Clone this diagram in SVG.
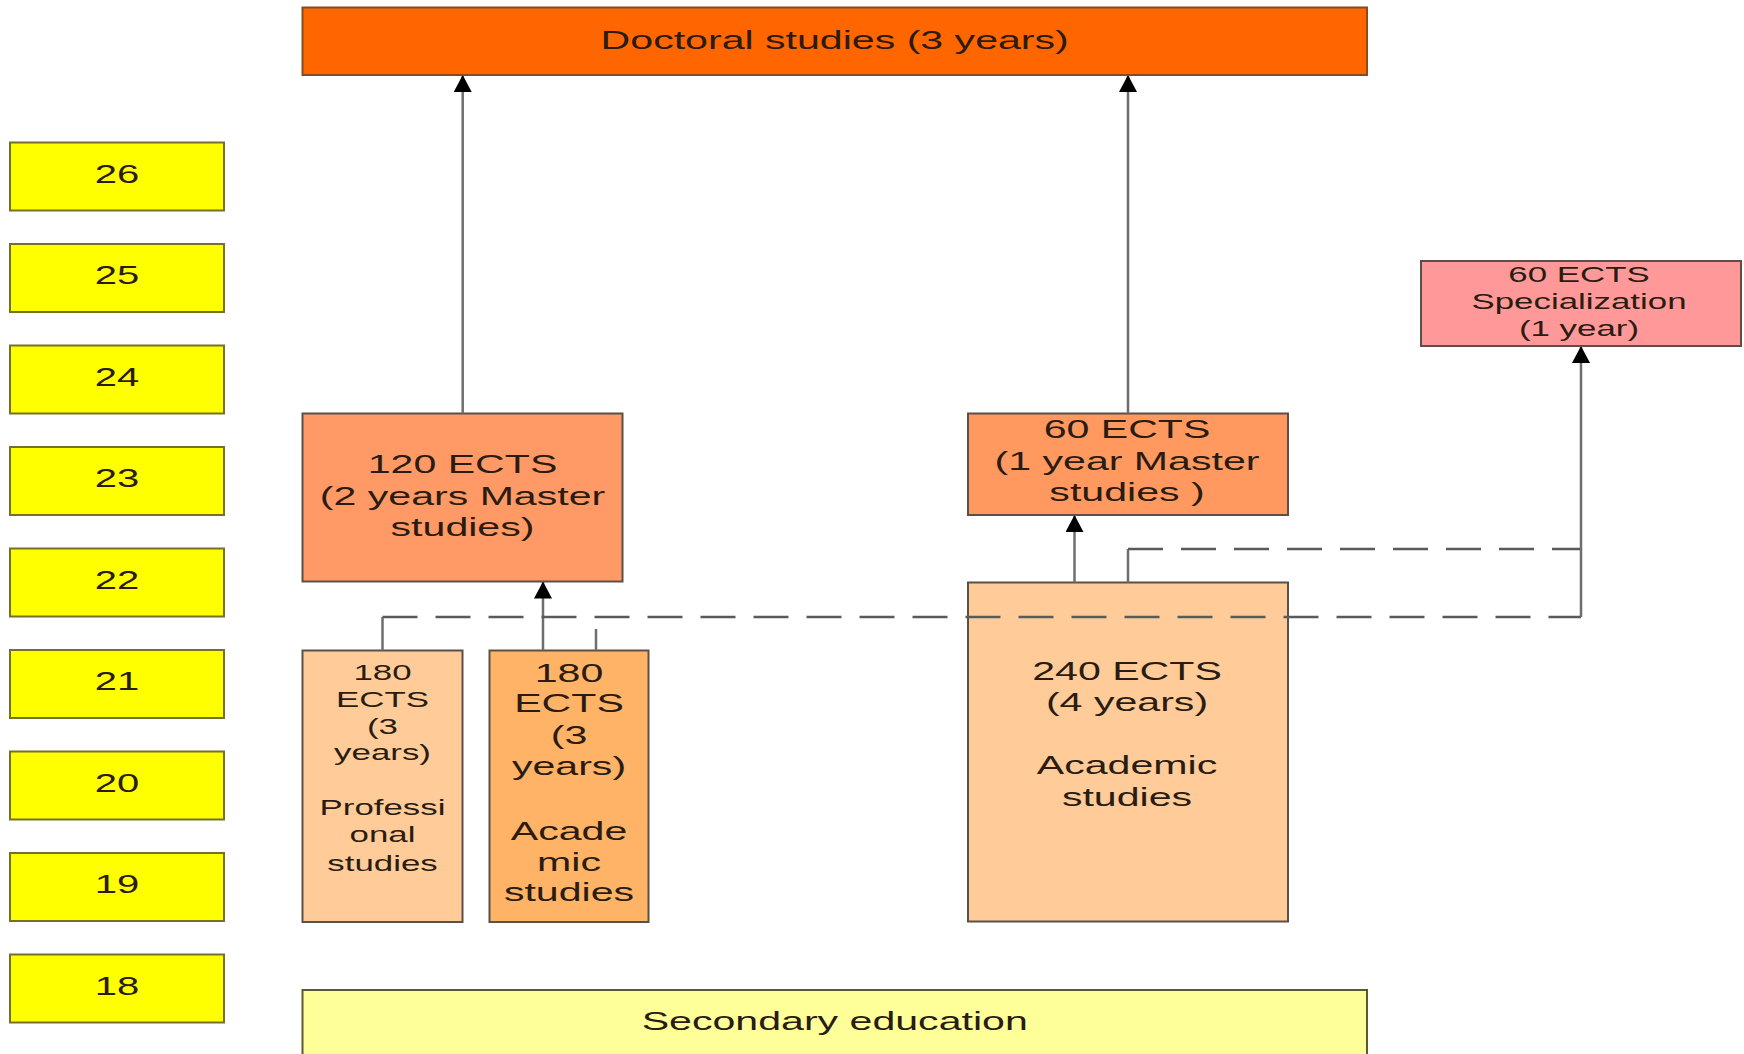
<svg xmlns="http://www.w3.org/2000/svg" width="1744" height="1054" viewBox="0 0 1744 1054">
<style>
  .t { font-family: "Liberation Sans", Arial, sans-serif; fill: #2a1c12; text-anchor: middle; }
  .s31 { font-size: 25.7px; }
  .s30 { font-size: 25px; }
  .s26 { font-size: 21.8px; }
  .box { stroke: #5a5048; stroke-width: 2; }
  .year rect { fill: #FFFF00; stroke: #77702a; stroke-width: 2; }
  .ln { fill: none; stroke: #6e6e6e; stroke-width: 2.5; }
  .dash { fill: none; stroke: #5a5a5a; stroke-width: 2.3; stroke-dasharray: 35 18; }
</style>
<defs>
  <marker id="arr" viewBox="0 0 17 18" refX="17" refY="9" markerWidth="17" markerHeight="18" markerUnits="userSpaceOnUse" orient="auto">
    <path d="M0,0 L17,9 L0,18 z" fill="#000"/>
  </marker>
</defs>
<rect width="1744" height="1054" fill="#ffffff"/>

<g id="year26" class="year"><rect x="10" y="142.5" width="214" height="68"/><text class="t s30" transform="translate(117,0) scale(1.6,1)" x="0" y="183">26</text></g>
<g id="year25" class="year"><rect x="10" y="244" width="214" height="68"/><text class="t s30" transform="translate(117,0) scale(1.6,1)" x="0" y="284.5">25</text></g>
<g id="year24" class="year"><rect x="10" y="345.5" width="214" height="68"/><text class="t s30" transform="translate(117,0) scale(1.6,1)" x="0" y="386">24</text></g>
<g id="year23" class="year"><rect x="10" y="447" width="214" height="68"/><text class="t s30" transform="translate(117,0) scale(1.6,1)" x="0" y="487.5">23</text></g>
<g id="year22" class="year"><rect x="10" y="548.5" width="214" height="68"/><text class="t s30" transform="translate(117,0) scale(1.6,1)" x="0" y="589">22</text></g>
<g id="year21" class="year"><rect x="10" y="650" width="214" height="68"/><text class="t s30" transform="translate(117,0) scale(1.6,1)" x="0" y="690.5">21</text></g>
<g id="year20" class="year"><rect x="10" y="751.5" width="214" height="68"/><text class="t s30" transform="translate(117,0) scale(1.6,1)" x="0" y="792">20</text></g>
<g id="year19" class="year"><rect x="10" y="853" width="214" height="68"/><text class="t s30" transform="translate(117,0) scale(1.6,1)" x="0" y="893.5">19</text></g>
<g id="year18" class="year"><rect x="10" y="954.5" width="214" height="68"/><text class="t s30" transform="translate(117,0) scale(1.6,1)" x="0" y="995">18</text></g>

<g id="doctoral">
  <rect x="302.5" y="7.5" width="1064.5" height="67.5" fill="#FF6600" stroke="#8a4a1c" stroke-width="2"/>
  <text class="t s31" transform="translate(834.7,0) scale(1.6,1)" x="0" y="49">Doctoral studies (3 years)</text>
</g>

<g id="master120">
  <rect class="box" x="302.5" y="413.5" width="320" height="168" fill="#FF9966"/>
  <text class="t s31" transform="translate(462.5,0) scale(1.6,1)"><tspan x="0" y="473.5">120 ECTS</tspan><tspan x="0" y="505">(2 years Master</tspan><tspan x="0" y="536">studies)</tspan></text>
</g>

<g id="master60">
  <rect class="box" x="968" y="413.5" width="320" height="101.5" fill="#FF9960"/>
  <text class="t s31" transform="translate(1127,0) scale(1.6,1)"><tspan x="0" y="438.5">60 ECTS</tspan><tspan x="0" y="470">(1 year Master</tspan><tspan x="0" y="501">studies )</tspan></text>
</g>

<g id="specialization">
  <rect class="box" x="1421" y="261" width="320" height="85" fill="#FF9999"/>
  <text class="t s26" transform="translate(1579,0) scale(1.6,1)"><tspan x="0" y="282.5">60 ECTS</tspan><tspan x="0" y="309.5">Specialization</tspan><tspan x="0" y="336.5">(1 year)</tspan></text>
</g>

<g id="professional180">
  <rect class="box" x="302.5" y="650.5" width="160" height="271.5" fill="#FFCC99"/>
  <text class="t s26" transform="translate(382.5,0) scale(1.6,1)"><tspan x="0" y="680">180</tspan><tspan x="0" y="707">ECTS</tspan><tspan x="0" y="734">(3</tspan><tspan x="0" y="760.5">years)</tspan><tspan x="0" y="815">Professi</tspan><tspan x="0" y="842.5">onal</tspan><tspan x="0" y="871">studies</tspan></text>
</g>

<g id="academic180">
  <rect class="box" x="489.5" y="650.5" width="159" height="271.5" fill="#FFB366"/>
  <text class="t s31" transform="translate(569,0) scale(1.6,1)"><tspan x="0" y="681.5">180</tspan><tspan x="0" y="712.5">ECTS</tspan><tspan x="0" y="744">(3</tspan><tspan x="0" y="775.5">years)</tspan><tspan x="0" y="840">Acade</tspan><tspan x="0" y="871">mic</tspan><tspan x="0" y="901.5">studies</tspan></text>
</g>

<g id="academic240">
  <rect class="box" x="968" y="582.5" width="320" height="339" fill="#FFCC99"/>
  <text class="t s31" transform="translate(1127,0) scale(1.6,1)"><tspan x="0" y="680">240 ECTS</tspan><tspan x="0" y="711.5">(4 years)</tspan><tspan x="0" y="774.5">Academic</tspan><tspan x="0" y="806">studies</tspan></text>
</g>

<g id="secondary">
  <rect x="302.5" y="990" width="1064.5" height="80" fill="#FFFF99" stroke="#5a5a30" stroke-width="2"/>
  <text class="t s31" transform="translate(834.7,0) scale(1.6,1)" x="0" y="1030">Secondary education</text>
</g>

<g id="connectors">
  <path class="ln" d="M462.7,413.5 V75" marker-end="url(#arr)"/>
  <path class="ln" d="M1128,413.5 V75" marker-end="url(#arr)"/>
  <path class="ln" d="M1074.5,582.5 V515" marker-end="url(#arr)"/>
  <path class="ln" d="M543,650.5 V581.5" marker-end="url(#arr)"/>
  <path class="ln" d="M382.5,650.5 V617"/>
  <path class="ln" d="M596,629 V650.5"/>
  <path class="ln" d="M1128,582.5 V549"/>
  <path class="dash" d="M382.5,617 H1581"/>
  <path class="dash" d="M1128,549 H1581"/>
  <path class="ln" d="M1581,617 V346" marker-end="url(#arr)"/>
</g>
</svg>
